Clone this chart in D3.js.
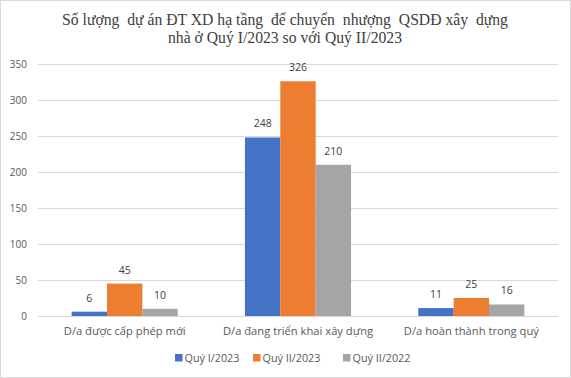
<!DOCTYPE html>
<html>
<head>
  <meta charset="utf-8">
  <title>Dự án nhà ở</title>
  <script src="https://d3js.org/d3.v7.min.js"></script>
  <style>
    body { margin: 0; background: #fff; }
    svg { display: block; }
  </style>
</head>
<body>
  <svg width="571" height="378"></svg>
  <script>
    const categories = ["D/a được cấp phép mới", "D/a đang triển khai xây dựng", "D/a hoàn thành trong quý"];
    const seriesNames = ["Quý I/2023", "Quý II/2023", "Quý II/2022"];
    const q1_2023 = [6, 248, 11];
    const q2_2023 = [45, 326, 25];
    const q2_2022 = [10, 210, 16];
    const yTicks = [0, 50, 100, 150, 200, 250, 300, 350];
    const titleLines = ["Số lượng  dự án ĐT XD hạ tầng  để chuyển  nhượng  QSDĐ xây  dựng",
                        "nhà ở Quý I/2023 so với Quý II/2023"];

    const colors = ["#4472c4", "#ed7d31", "#a5a5a5"];
    const seriesValues = [q1_2023, q2_2023, q2_2022];

    const svg = d3.select("svg");
    const W = 571, H = 378;
    const plotLeft = 38, plotRight = 558, plotTop = 64, plotBottom = 316;

    svg.append("rect")
      .attr("x", 0.5).attr("y", 0.5)
      .attr("width", W - 1).attr("height", H - 1)
      .attr("fill", "#fff").attr("stroke", "#d9d9d9");

    svg.append("g").selectAll("text")
      .data(titleLines)
      .join("text")
      .attr("x", 285).attr("y", (d, i) => 25 + i * 18)
      .attr("text-anchor", "middle")
      .attr("font-family", "'Liberation Serif', 'Times New Roman', serif")
      .attr("font-size", 15.7)
      .attr("fill", "#404040")
      .style("white-space", "pre")
      .text(d => d);

    const x0 = d3.scaleBand().domain(categories).range([plotLeft, plotRight]).paddingInner(0.388).paddingOuter(0.194);
    const x1 = d3.scaleBand().domain(seriesNames).range([0, x0.bandwidth()]);
    const y = d3.scaleLinear().domain([0, 350]).range([plotBottom, plotTop]);

    // gridlines
    svg.append("g").selectAll("line")
      .data(yTicks.slice(1))
      .join("line")
      .attr("x1", plotLeft).attr("x2", plotRight)
      .attr("y1", d => Math.round(y(d)) + 0.5).attr("y2", d => Math.round(y(d)) + 0.5)
      .attr("stroke", "#d9d9d9");

    // y tick labels
    svg.append("g").selectAll("text")
      .data(yTicks)
      .join("text")
      .attr("x", 27).attr("y", d => y(d) + 4)
      .attr("text-anchor", "end")
      .attr("font-family", "'Open Sans', Calibri, sans-serif")
      .attr("font-size", 10)
      .attr("fill", "#595959")
      .text(d => d);

    // bars
    const groups = svg.append("g").selectAll("g")
      .data(categories)
      .join("g")
      .attr("transform", d => `translate(${x0(d)},0)`);

    groups.selectAll("rect")
      .data((c, ci) => seriesNames.map((s, si) => ({ s, si, v: seriesValues[si][ci] })))
      .join("rect")
      .attr("x", d => x1(d.s))
      .attr("width", x1.bandwidth())
      .attr("y", d => y(d.v))
      .attr("height", d => y(0) - y(d.v))
      .attr("fill", d => colors[d.si]);

    groups.selectAll("text")
      .data((c, ci) => seriesNames.map((s, si) => ({ s, si, v: seriesValues[si][ci] })))
      .join("text")
      .attr("x", d => x1(d.s) + x1.bandwidth() / 2)
      .attr("y", d => y(d.v) - 10)
      .attr("text-anchor", "middle")
      .attr("font-family", "'Open Sans', Calibri, sans-serif")
      .attr("font-size", 10.5)
      .attr("fill", "#404040")
      .text(d => d.v);

    // x axis line
    svg.append("line")
      .attr("x1", plotLeft).attr("x2", plotRight)
      .attr("y1", plotBottom + 0.5).attr("y2", plotBottom + 0.5)
      .attr("stroke", "#d9d9d9");

    // category labels
    svg.append("g").selectAll("text")
      .data(categories)
      .join("text")
      .attr("x", d => x0(d) + x0.bandwidth() / 2)
      .attr("y", 335)
      .attr("text-anchor", "middle")
      .attr("font-family", "'Open Sans', Calibri, sans-serif")
      .attr("font-size", 11.2)
      .attr("fill", "#595959")
      .text(d => d);

    // legend
    const legendX = [175, 253, 343];
    const legend = svg.append("g").selectAll("g")
      .data(seriesNames)
      .join("g")
      .attr("transform", (d, i) => `translate(${legendX[i]},354)`);
    legend.append("rect")
      .attr("width", 7.5).attr("height", 7.5)
      .attr("fill", (d, i) => colors[i]);
    legend.append("text")
      .attr("x", 9.5).attr("y", 7.5)
      .attr("font-family", "'Open Sans', Calibri, sans-serif")
      .attr("font-size", 10.8)
      .attr("fill", "#595959")
      .text(d => d);
  </script>
</body>
</html>
